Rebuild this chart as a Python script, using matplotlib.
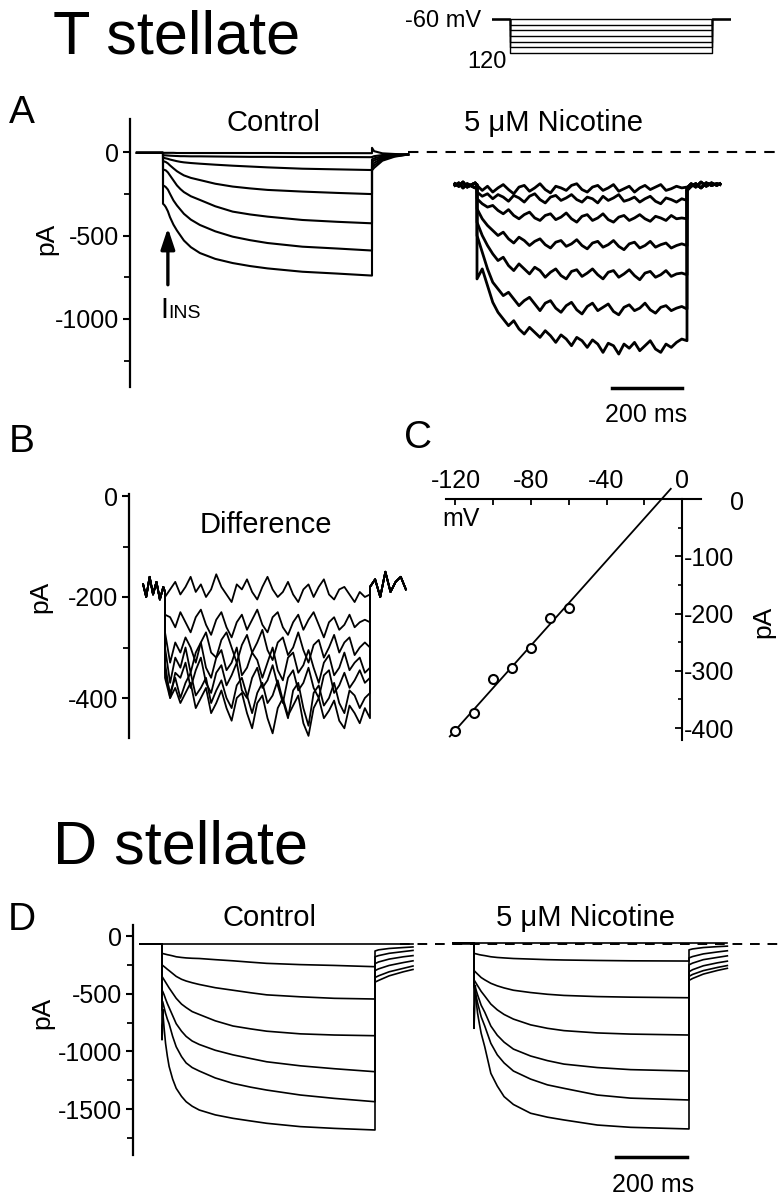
import numpy as np
import matplotlib
matplotlib.use("Agg")
import matplotlib.pyplot as plt

plt.rcParams['font.family'] = ['Liberation Sans', 'DejaVu Sans']
plt.rcParams['axes.unicode_minus'] = False

# ---------------- data ----------------
STEP_MS = 600
SCALE_MS = 200
protocol_mV = [-60, -70, -80, -90, -100, -110, -120]
holding_mV = -60

# Panel A, control (smooth traces), pA
a_ctrl_hold = -5
a_ctrl_t = [0, 4, 8, 14, 20, 30, 40, 50, 60, 80, 106, 150, 200, 250, 300, 400, 500, 600]
a_ctrl_traces = [
    [-5, -5, -5, -5, -5, -5, -6, -6, -6, -6, -6, -6, -6, -6, -6, -7, -7, -7],
    [-20, -20, -20, -21, -22, -23, -24, -25, -25, -26, -26, -27, -28, -29, -29, -30, -30, -31],
    [-35, -36, -38, -41, -45, -50, -55, -59, -62, -66, -70, -76, -82, -87, -92, -100, -104, -108],
    [-55, -57, -60, -68, -80, -98, -115, -128, -140, -155, -168, -190, -207, -218, -227, -237, -245, -252],
    [-105, -107, -110, -122, -140, -170, -200, -222, -240, -265, -287, -325, -357, -374, -387, -407, -418, -427],
    [-200, -204, -210, -225, -250, -290, -320, -345, -370, -405, -437, -475, -507, -528, -545, -567, -578, -590],
    [-310, -318, -330, -355, -390, -435, -470, -500, -530, -570, -605, -640, -665, -683, -697, -717, -728, -740],
]
a_ctrl_tail_t = [600, 606, 630, 665, 704]
a_ctrl_tails = [
    [25, 5, -8, -12, -15],
    [-30, -25, -18, -15, -15],
    [-45, -38, -25, -18, -15],
    [-60, -50, -32, -20, -15],
    [-80, -65, -38, -22, -15],
    [-95, -80, -45, -25, -15],
    [-110, -95, -52, -28, -15],
]

# Panel A, 5 uM nicotine (noisy traces), pA
a_nic_pre_t = [-63, -52, -40, -28, -15, -5, 0]
a_nic_pre = [[-190, -205, -180, -210, -195, -185, -200],
             [-200, -185, -215, -190, -205, -215, -195]]
a_nic_tail_t = [600, 612, 625, 640, 655, 670, 685, 694]
a_nic_tails = [[-230, -205, -190, -215, -185, -200, -190, -195],
               [-215, -190, -210, -180, -205, -185, -200, -190]]
a_nic_traces = [
    [-200, -230, -205, -240, -215, -195, -225, -250, -210, -200, -235, -215, -190, -225, -245, -205, -215, -230, -200, -190, -225,
     -240, -210, -200, -230, -215, -195, -235, -220, -205, -240, -215, -200, -225, -210, -195, -230, -220, -205, -215, -210],
    [-240, -265, -250, -280, -255, -270, -295, -260, -275, -300, -265, -250, -285, -305, -270, -260, -290, -275, -255, -285, -300,
     -270, -280, -305, -265, -290, -275, -255, -295, -285, -270, -300, -280, -265, -295, -310, -275, -285, -300, -280, -290],
    [-280, -310, -330, -320, -350, -370, -345, -380, -400, -375, -360, -395, -410, -380, -370, -405, -390, -365, -400, -420, -385,
     -375, -410, -395, -370, -405, -420, -390, -380, -410, -395, -375, -400, -415, -385, -395, -410, -380, -400, -395, -400],
    [-340, -400, -440, -470, -500, -480, -520, -545, -510, -530, -560, -535, -520, -555, -575, -540, -530, -565, -550, -525, -560,
     -580, -545, -535, -570, -555, -530, -565, -585, -550, -540, -575, -560, -535, -570, -555, -545, -575, -560, -550, -560],
    [-420, -500, -560, -610, -650, -630, -680, -710, -670, -700, -730, -690, -710, -750, -720, -700, -740, -760, -715, -705, -745,
     -725, -700, -735, -760, -720, -710, -750, -730, -705, -740, -765, -725, -715, -750, -735, -710, -745, -730, -725, -735],
    [-500, -600, -700, -780, -820, -860, -840, -880, -920, -890, -870, -910, -950, -905, -890, -935, -960, -920, -900, -945, -970,
     -925, -905, -950, -930, -910, -955, -975, -930, -915, -950, -935, -905, -945, -965, -930, -920, -950, -935, -925, -940],
    [-760, -700, -800, -900, -960, -1000, -1040, -1010, -1060, -1090, -1050, -1080, -1110, -1070, -1100, -1140, -1095, -1120, -1160,
     -1110, -1130, -1170, -1125, -1150, -1200, -1145, -1160, -1210, -1150, -1175, -1140, -1190, -1160, -1130, -1180, -1200, -1150,
     -1170, -1140, -1120, -1130],
]

# Panel B, difference currents, pA
b_pre_t = [-64, -55, -45, -35, -25, -15, -5, 0]
b_pre = [-175, -200, -160, -195, -170, -205, -180, -190]
b_tail_t = [600, 615, 630, 645, 660, 675, 690, 705]
b_tail = [-180, -165, -200, -150, -190, -170, -160, -185]
b_traces = [
    [-200, -185, -170, -195, -180, -160, -190, -175, -200, -185, -155, -180, -195, -210, -175, -185, -165, -190, -205, -180, -160,
     -185, -200, -190, -170, -195, -210, -185, -175, -200, -180, -165, -195, -205, -185, -180, -195, -210, -190, -200, -195],
    [-235, -240, -260, -230, -250, -270, -240, -225, -255, -275, -245, -230, -260, -280, -250, -235, -265, -245, -225, -255, -270,
     -240, -230, -260, -275, -250, -235, -265, -245, -230, -255, -280, -250, -240, -265, -255, -235, -260, -250, -245, -250],
    [-270, -330, -290, -310, -280, -300, -330, -290, -270, -310, -320, -285, -270, -300, -330, -295, -275, -310, -290, -265, -305,
     -325, -290, -280, -315, -300, -270, -305, -330, -295, -285, -320, -300, -275, -310, -290, -280, -315, -300, -290, -300],
    [-300, -370, -320, -340, -300, -350, -310, -290, -340, -360, -320, -305, -345, -330, -300, -355, -340, -310, -325, -360, -330,
     -300, -345, -365, -320, -310, -350, -335, -305, -340, -370, -330, -315, -355, -340, -310, -345, -330, -320, -350, -340],
    [-330, -400, -350, -360, -330, -380, -345, -320, -370, -390, -350, -335, -375, -355, -330, -385, -400, -360, -340, -380, -365,
     -335, -375, -410, -360, -345, -385, -370, -340, -380, -400, -355, -345, -390, -375, -350, -380, -365, -345, -370, -360],
    [-350, -390, -360, -400, -370, -350, -395, -380, -360, -410, -385, -365, -400, -420, -375, -360, -395, -430, -390, -370, -410,
     -395, -365, -405, -440, -385, -370, -420, -455, -390, -375, -415, -400, -370, -410, -430, -385, -395, -420, -400, -390],
    [-360, -400, -380, -410, -390, -370, -420, -400, -380, -430, -410, -385, -420, -445, -400, -390, -430, -460, -410, -395, -440,
     -470, -420, -400, -435, -415, -395, -450, -475, -420, -400, -440, -425, -405, -445, -460, -415, -430, -450, -420, -440],
]

# Panel C, I-V relation of the difference current
c_mV = [-120, -110, -100, -90, -80, -70, -60]
c_pA = [-406, -374, -315, -296, -260, -208, -190]
c_fit_range_mV = [-123, -6]

# Panel D, control
d_hold = -68
d_ctrl_t = [0, 2, 6, 10, 15, 20, 30, 40, 55, 68, 85, 105, 150, 200, 250, 295, 390, 485, 600]
d_ctrl_traces = [
    [-68] * 19,
    [-150, -152, -155, -158, -162, -165, -172, -180, -186, -190, -193, -195, -205, -215, -227, -237, -248, -255, -266],
    [-250, -255, -265, -275, -288, -300, -325, -350, -375, -390, -405, -420, -448, -470, -492, -510, -527, -540, -546],
    [-350, -360, -380, -400, -425, -450, -495, -540, -590, -620, -655, -680, -735, -780, -805, -825, -848, -858, -864],
    [-470, -480, -510, -545, -585, -620, -690, -760, -825, -870, -910, -940, -990, -1030, -1062, -1090, -1125, -1150, -1176],
    [-560, -570, -620, -670, -720, -760, -870, -960, -1045, -1100, -1140, -1170, -1230, -1277, -1310, -1335, -1378, -1407, -1436],
    [-640, -650, -800, -930, -1040, -1130, -1240, -1320, -1390, -1436, -1475, -1508, -1550, -1580, -1603, -1623, -1652, -1667, -1681],
]
d_artifact_t = [0, 0, 4]
d_artifact_pA = [-68, -900, -640]
d_tail_t = [600, 610, 640, 680, 707]
d_tails = [
    [-68, -68, -68, -68, -68],
    [-130, -120, -108, -100, -95],
    [-180, -170, -150, -135, -125],
    [-240, -225, -200, -180, -170],
    [-300, -285, -255, -230, -215],
    [-360, -345, -310, -280, -260],
    [-400, -385, -345, -310, -290],
]

# Panel D, 5 uM nicotine
d_nic_hold = -64
d_nic_t = [0, 2, 6, 10, 15, 20, 30, 47, 65, 84, 110, 158, 205, 251, 344, 437, 600]
d_nic_traces = [
    [-64] * 17,
    [-150, -152, -155, -158, -162, -165, -170, -180, -186, -190, -195, -200, -205, -208, -212, -215, -217],
    [-300, -305, -318, -330, -345, -360, -380, -410, -432, -450, -470, -490, -505, -515, -525, -530, -535],
    [-380, -390, -410, -430, -455, -480, -520, -590, -640, -680, -720, -770, -800, -820, -840, -850, -858],
    [-420, -430, -470, -510, -555, -600, -660, -780, -860, -920, -980, -1040, -1080, -1110, -1140, -1158, -1170],
    [-440, -460, -520, -580, -640, -700, -780, -930, -1030, -1100, -1170, -1240, -1290, -1320, -1378, -1405, -1421],
    [-430, -440, -560, -670, -760, -843, -960, -1190, -1300, -1392, -1460, -1536, -1570, -1594, -1638, -1658, -1672],
]
d_nic_artifact_pA = [-64, -800, -430]
d_nic_tails = [
    [-64, -64, -64, -64, -64],
    [-120, -112, -100, -92, -88],
    [-190, -178, -155, -138, -128],
    [-250, -235, -205, -185, -172],
    [-310, -292, -258, -232, -218],
    [-350, -333, -300, -272, -256],
    [-385, -368, -330, -298, -280],
]

# ---------------- layout helpers ----------------
W, H = 778, 1199
fig = plt.figure(figsize=(W / 100, H / 100), dpi=100)
TICK_FS = 18
TITLE_FS = 21
LABEL_FS = 28


def lin(p, pa, va, pb, vb):
    return va + (p - pa) * (vb - va) / (pb - pa)


def add_ax(x0, x1, y0, y1):
    ax = fig.add_axes([x0 / W, 1 - y1 / H, (x1 - x0) / W, (y1 - y0) / H])
    ax.patch.set_alpha(0)
    for s in ax.spines.values():
        s.set_visible(False)
    ax.set_xticks([])
    ax.set_yticks([])
    return ax


def trace_ax(x0, x1, y0, y1, px_t0, px_tend, py_zero, px_per_pA):
    ax = add_ax(x0, x1, y0, y1)
    ax.set_xlim(lin(x0, px_t0, 0, px_tend, STEP_MS), lin(x1, px_t0, 0, px_tend, STEP_MS))
    ax.set_ylim(-(y1 - py_zero) / px_per_pA, (py_zero - y0) / px_per_pA)
    return ax


def left_axis(ax, major, minor):
    ax.spines['left'].set_visible(True)
    ax.spines['left'].set_linewidth(1.6)
    ax.set_yticks(major)
    ax.set_yticklabels([str(v) for v in major])
    ax.set_yticks(minor, minor=True)
    ax.tick_params(axis='y', which='major', direction='out', length=5, width=1.5,
                   labelsize=TICK_FS, pad=3)
    ax.tick_params(axis='y', which='minor', direction='out', length=4, width=1.3)


def ftext(x, y, s, **kw):
    fig.text(x / W, 1 - y / H, s, **kw)


K = 'black'

# ---------------- titles / labels ----------------
ftext(53, 53, "T stellate", fontsize=44, va='baseline', ha='left')
ftext(53, 863, "D stellate", fontsize=44, va='baseline', ha='left')
ftext(9, 123, "A", fontsize=LABEL_FS, va='baseline')
ftext(9, 452, "B", fontsize=LABEL_FS, va='baseline')
ftext(404, 448, "C", fontsize=LABEL_FS, va='baseline')
ftext(8, 930, "D", fontsize=LABEL_FS, va='baseline')

ftext(273, 131, "Control", fontsize=TITLE_FS, ha='center', va='baseline')
ftext(553, 131, "5 \u03bcM Nicotine", fontsize=TITLE_FS, ha='center', va='baseline')
ftext(266, 533, "Difference", fontsize=TITLE_FS, ha='center', va='baseline')
ftext(270, 926, "Control", fontsize=TITLE_FS, ha='center', va='baseline')
ftext(586, 926, "5 \u03bcM Nicotine", fontsize=TITLE_FS, ha='center', va='baseline')

ftext(46, 239, "pA", fontsize=19, rotation=90, ha='center', va='center')
ftext(40, 597, "pA", fontsize=19, rotation=90, ha='center', va='center')
ftext(42, 1013, "pA", fontsize=19, rotation=90, ha='center', va='center')
ftext(763, 622, "pA", fontsize=19, rotation=90, ha='center', va='center')
ftext(442, 526, "mV", fontsize=18, ha='left', va='baseline')

ftext(160, 318, "I", fontsize=21, ha='left', va='baseline')
ftext(168, 318, "INS", fontsize=14, ha='left', va='baseline')

# ---------------- protocol inset ----------------
axp = add_ax(492, 731, 14, 58)
axp.set_xlim(lin(492, 510, 0, 712, STEP_MS), lin(731, 510, 0, 712, STEP_MS))
axp.set_ylim(lin(58, 19, -60, 53, -120), lin(14, 19, -60, 53, -120))
t_lo, t_hi = axp.get_xlim()
for v in protocol_mV:
    axp.plot([t_lo, 0, 0, STEP_MS, STEP_MS, t_hi], [holding_mV, holding_mV, v, v, holding_mV, holding_mV],
             color=K, lw=1.0)
ftext(481, 27, "-60 mV", fontsize=17, ha='right', va='baseline')
ftext(507, 68, "120", fontsize=17, ha='right', va='baseline')

# ---------------- panel A control ----------------
A_PX_PER_PA = 83.5 / 500
axA = trace_ax(130, 420, 119, 387, 163, 372, 152, A_PX_PER_PA)
left_axis(axA, [-1000, -500, 0], [-1250, -750, -250])
for tr, tl in zip(a_ctrl_traces, a_ctrl_tails):
    t = [-75, 0] + a_ctrl_t + a_ctrl_tail_t
    y = [a_ctrl_hold, a_ctrl_hold] + tr + tl
    axA.plot(t, y, color=K, lw=1.5, solid_joinstyle='round')
axA.annotate('', xy=(14, -455), xytext=(14, -795),
             arrowprops=dict(arrowstyle='-|>,head_length=0.9,head_width=0.3', lw=2.4, color=K,
                             mutation_scale=14, shrinkA=0, shrinkB=0))

# ---------------- panel A nicotine ----------------
axN = trace_ax(400, 778, 119, 387, 477, 687, 152, A_PX_PER_PA)
n_lo, n_hi = axN.get_xlim()
axN.plot([lin(408, 477, 0, 687, STEP_MS), n_hi], [0, 0], color=K, lw=1.5, ls=(0, (5, 4)))
for i, tr in enumerate(a_nic_traces):
    tt = list(np.linspace(0, STEP_MS, len(tr)))
    t = a_nic_pre_t + tt + a_nic_tail_t
    y = a_nic_pre[i % 2] + tr + a_nic_tails[i % 2]
    axN.plot(t, y, color=K, lw=2.0, solid_joinstyle='round')
sb_y = -(388 - 152) / A_PX_PER_PA
axN.plot([STEP_MS - 15 - SCALE_MS, STEP_MS - 15], [sb_y, sb_y], color=K, lw=2.5, clip_on=False)
ftext(646, 422, "%d ms" % SCALE_MS, fontsize=18, ha='center', va='baseline')

# ---------------- panel B ----------------
axB = trace_ax(129, 420, 494, 738, 165, 370, 496, 101 / 200)
left_axis(axB, [-400, -200, 0], [-300, -100])
for tr in b_traces:
    tt = list(np.linspace(0, STEP_MS, len(tr)))
    axB.plot(b_pre_t + tt + b_tail_t, b_pre + tr + b_tail, color=K, lw=1.3, solid_joinstyle='round')

# ---------------- panel C ----------------
axC = add_ax(446, 701, 499, 739.5)
axC.set_xlim(-125, 10)
axC.set_ylim(-420, 0)
axC.spines['top'].set_visible(True)
axC.spines['right'].set_visible(True)
axC.spines['right'].set_position(('data', 0))
axC.spines['top'].set_linewidth(1.5)
axC.spines['right'].set_linewidth(1.5)
axC.xaxis.tick_top()
axC.yaxis.tick_right()
axC.set_xticks([-120, -80, -40, 0])
axC.set_xticklabels(['-120', '-80', '-40', '0'])
axC.set_xticks([-100, -60, -20], minor=True)
axC.set_yticks([-400, -300, -200, -100])
axC.set_yticklabels(['-400', '-300', '-200', '-100'])
axC.set_yticks([-350, -250, -150, -50], minor=True)
axC.tick_params(axis='x', which='both', direction='in', length=4, width=1.3, labelsize=TICK_FS, pad=4,
                top=True, bottom=False, labeltop=True, labelbottom=False)
axC.tick_params(axis='y', which='major', direction='in', length=5, width=1.3, labelsize=TICK_FS, pad=1,
                right=True, left=False, labelright=True, labelleft=False)
axC.tick_params(axis='y', which='minor', direction='in', length=3, width=1.2, right=True, left=False)
ftext(737, 510, "0", fontsize=TICK_FS, ha='center', va='baseline')
slope, icpt = np.polyfit(c_mV, c_pA, 1)
fx = np.array(c_fit_range_mV, dtype=float)
axC.plot(fx, slope * fx + icpt, color=K, lw=1.3, clip_on=False)
axC.plot(c_mV, c_pA, ls='none', marker='o', ms=6.5, mfc='white', mec=K, mew=1.5, clip_on=False)

# ---------------- panel D control ----------------
D_PX_PER_PA = 57.7 / 500
axD = trace_ax(133, 420, 925, 1155, 162, 375, 936, D_PX_PER_PA)
left_axis(axD, [-1500, -1000, -500, 0], [-1750, -1250, -750, -250])
for tr, tl in zip(d_ctrl_traces, d_tails):
    t = [-62, 0] + d_ctrl_t + d_tail_t
    y = [d_hold, d_hold] + tr + tl
    axD.plot(t, y, color=K, lw=1.2, solid_joinstyle='round')
axD.plot(d_artifact_t, d_artifact_pA, color=K, lw=1.2)

# ---------------- panel D nicotine ----------------
axDN = trace_ax(400, 778, 925, 1155, 474, 689, 936, D_PX_PER_PA)
m_lo, m_hi = axDN.get_xlim()
axDN.plot([m_lo, m_hi], [d_hold, d_hold], color=K, lw=1.4, ls=(0, (5, 4)))
for tr, tl in zip(d_nic_traces, d_nic_tails):
    t = [-59, 0] + d_nic_t + d_tail_t
    y = [d_nic_hold, d_nic_hold] + tr + tl
    axDN.plot(t, y, color=K, lw=1.2, solid_joinstyle='round')
axDN.plot(d_artifact_t, d_nic_artifact_pA, color=K, lw=1.2)
sbd_y = -(1157 - 936) / D_PX_PER_PA
axDN.plot([STEP_MS - 5 - SCALE_MS, STEP_MS - 5], [sbd_y, sbd_y], color=K, lw=2.5, clip_on=False)
ftext(653, 1192, "%d ms" % SCALE_MS, fontsize=18, ha='center', va='baseline')

fig.savefig("out.png", dpi=100)
